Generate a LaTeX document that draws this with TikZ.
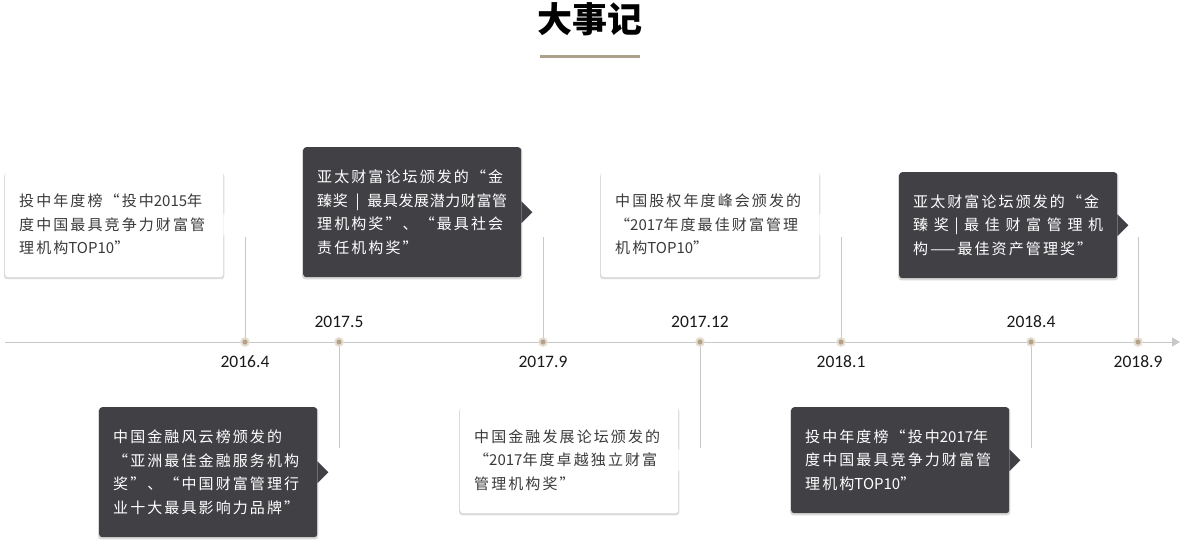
\documentclass[tikz,border=0pt]{standalone}
\usepackage{fontspec}
\setmainfont{Carlito}
\newfontfamily\cjk{Noto Sans CJK SC}[LetterSpace=14]
\newfontfamily\cjkplain{Noto Sans CJK SC}
\newfontfamily\cjktitle{Noto Sans CJK SC}
\newcommand\tight[1]{{\cjkplain #1}}
\usetikzlibrary{arrows.meta, positioning, shadows}
\definecolor{BoxDark}{HTML}{414045}
\definecolor{TextGray}{HTML}{3A3A3A}
\definecolor{LineGray}{HTML}{C8C8C8}
\definecolor{DotTan}{HTML}{B3A287}
\definecolor{DotHalo}{HTML}{E4DCD0}
\definecolor{RuleTan}{HTML}{ADA08A}

\begin{document}
\begin{tikzpicture}[x=1pt, y=-1pt,
    event/.style={rectangle, rounded corners=3pt, anchor=north west, text width=190pt,
        inner xsep=14pt, inner ysep=0pt, align=left, font=\cjk\fontsize{15}{23.5}\selectfont},
    lightevent/.style={event, fill=white, text=TextGray,
        drop shadow={shadow xshift=0pt, shadow yshift=-1.5pt, shadow scale=1.01, opacity=0.14, fill=black}},
    darkevent/.style={event, fill=BoxDark, text=white,
        drop shadow={shadow xshift=0pt, shadow yshift=-1.5pt, shadow scale=1.01, opacity=0.15, fill=black}},
    evdot/.style={circle, inner sep=0pt, minimum size=7.5pt, fill=DotTan, draw=DotHalo, line width=2pt},
    stem/.style={LineGray, line width=0.8pt},
    date/.style={font=\fontsize{17.5}{17.5}\selectfont, text=black!90}]
    \useasboundingbox (0,0) rectangle (1180,544);

    % title
    \node[font=\cjktitle\bfseries\fontsize{35}{35}\selectfont] (title) at (590,19) {大事记};
    \coordinate (rule-l) at (540,56);
    \coordinate (rule-r) at (640,56);
    \draw[RuleTan, line width=3pt] (rule-l) -- (rule-r);

    % axis
    \coordinate (ax-start) at (5,342);
    \coordinate (ax-end) at (1180,342);
    \draw[LineGray, line width=1pt, -{Triangle[length=8pt, width=9pt]}] (ax-start) -- (ax-end);

    % stems and dots
    \foreach \n/\x/\y in {1/245/237, 2/339/448, 3/543/237, 4/700/448, 5/841/237, 6/1031/448, 7/1138/237} {
        \coordinate (s\n) at (\x,\y);
        \draw[stem] (\x,342) -- (s\n);
        \node[evdot] (d\n) at (\x,342) {};
    }

    % dates
    \node[date] (t1) at (245,362) {2016.4};
    \node[date] (t2) at (339,322) {2017.5};
    \node[date] (t3) at (543,362) {2017.9};
    \node[date] (t4) at (700,322) {2017.12};
    \node[date] (t5) at (841,362) {2018.1};
    \node[date] (t6) at (1031,322) {2018.4};
    \node[date] (t7) at (1138,362) {2018.9};

    % events above the axis
    \node[lightevent, minimum height=105pt] (b1) at (5,172)
        {投中年度榜“投中\tight{2015}年\\度中国最具竞争力财富管\\理机构\tight{TOP10}”};
    \node[darkevent, minimum height=130pt] (b3) at (303,147)
        {亚太财富论坛颁发的“金\\ \makebox[190pt][s]{\addfontfeature{LetterSpace=4}臻奖\hfill|\hfill 最具发展潜力财富管}\\理机构奖”、“最具社会\\责任机构奖”};
    \node[lightevent, minimum height=105pt] (b5) at (601,172)
        {中国股权年度峰会颁发的\\“\tight{2017}年度最佳财富管理\\机构\tight{TOP10}”};
    \node[darkevent, minimum height=106pt] (b7) at (899,172)
        {亚太财富论坛颁发的“金\\ \makebox[190pt][s]{臻\hfill 奖\hfill |\hfill 最\hfill 佳\hfill 财\hfill 富\hfill 管\hfill 理\hfill 机}\\构——最佳资产管理奖”};

    % events below the axis
    \node[darkevent, minimum height=130pt] (b2) at (99,407)
        {中国金融风云榜颁发的\\“亚洲最佳金融服务机构\\奖”、“中国财富管理行\\业十大最具影响力品牌”};
    \node[lightevent, minimum height=106pt] (b4) at (460,407)
        {中国金融发展论坛颁发的\\“\tight{2017}年度卓越独立财富\\管理机构奖”};
    \node[darkevent, minimum height=106pt] (b6) at (791,407)
        {投中年度榜“投中\tight{2017}年\\度中国最具竞争力财富管\\理机构\tight{TOP10}”};

    % pointers
    \foreach \b/\c in {b1/white, b2/BoxDark, b3/BoxDark, b4/white, b5/white, b6/BoxDark, b7/BoxDark}
        \fill[\c] ([yshift=11pt]\b.east) -- ([xshift=11pt]\b.east) -- ([yshift=-11pt]\b.east) -- cycle;
\end{tikzpicture}
\end{document}
